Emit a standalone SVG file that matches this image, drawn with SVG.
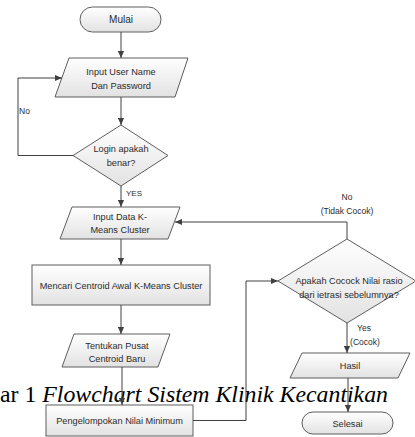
<svg xmlns="http://www.w3.org/2000/svg" width="415" height="437" viewBox="0 0 415 437">
<defs>
<linearGradient id="g" x1="0" y1="0" x2="0" y2="1">
<stop offset="0" stop-color="#ffffff"/>
<stop offset="1" stop-color="#e2e2e2"/>
</linearGradient>
<marker id="ar" viewBox="0 0 8 8" refX="8" refY="4" markerWidth="7" markerHeight="7" markerUnits="userSpaceOnUse" orient="auto">
<path d="M0,0.5 L8,4 L0,7.5 z" fill="#404040"/>
</marker>
<style>
.s{fill:url(#g);stroke:#5e5e5e;stroke-width:1}
.t{font-family:"Liberation Sans",Arial,sans-serif;font-size:9.2px;fill:#2b2b2b;text-anchor:middle}
.l{font-family:"Liberation Sans",Arial,sans-serif;font-size:8.5px;fill:#2b2b2b}
.c{fill:none;stroke:#404040;stroke-width:1}
.cap{font-family:"Liberation Serif","Times New Roman",serif;font-size:23.8px;fill:#000}
</style>
</defs>
<rect width="415" height="437" fill="#ffffff"/>
<text class="cap" x="0" y="402">ar 1 <tspan font-style="italic">Flowchart Sistem Klinik Kecantikan</tspan></text>
<g id="n-mulai"><rect class="s" x="80" y="7" width="81" height="25" rx="12.5"/><text class="t" x="121" y="23" style="font-size:10px">Mulai</text></g>
<g id="n-input-user"><path class="s" d="M69,58 H188 L175,97 H55 Z"/><text class="t" x="121" y="75">Input User Name</text><text class="t" x="121" y="88.5">Dan Password</text></g>
<g id="n-login"><path class="s" d="M121,125 L168,155.5 L121,186 L73,155.5 Z"/><text class="t" x="121" y="152">Login apakah</text><text class="t" x="121" y="166">benar?</text></g>
<g id="n-input-data"><path class="s" d="M72,207 H180 L168,239 H60 Z"/><text class="t" x="120" y="219.5">Input Data K-</text><text class="t" x="120" y="233">Means Cluster</text></g>
<g id="n-mencari"><rect class="s" x="32" y="265" width="178" height="40"/><text class="t" x="121" y="289">Mencari Centroid Awal K-Means Cluster</text></g>
<g id="n-tentukan"><path class="s" d="M74,334 H170 L158,367 H62 Z"/><text class="t" x="117" y="348.5">Tentukan Pusat</text><text class="t" x="117" y="362">Centroid Baru</text></g>
<g id="n-pengelompokan"><rect class="s" x="46" y="405" width="147" height="31"/><text class="t" x="119.5" y="424">Pengelompokan Nilai Minimum</text></g>
<g id="n-cocok"><path class="s" d="M347,239 L416,281 L347,323 L278,281 Z"/><text class="t" x="349" y="284">Apakah Cocock Nilai rasio</text><text class="t" x="349" y="298">dari ietrasi sebelumnya?</text></g>
<g id="n-hasil"><path class="s" d="M302,353 H410 L398,378 H290 Z"/><text class="t" x="350" y="368.5">Hasil</text></g>
<g id="n-selesai"><rect class="s" x="302" y="412" width="91" height="22" rx="11"/><text class="t" x="347.5" y="426.5">Selesai</text></g>
<g id="connectors">
<path class="c" d="M121,32 V58" marker-end="url(#ar)"/>
<path class="c" d="M121,97 V125" marker-end="url(#ar)"/>
<path class="c" d="M73,155.5 H18 V78 H62" marker-end="url(#ar)"/>
<path class="c" d="M121,186 V207" marker-end="url(#ar)"/>
<path class="c" d="M121,239 V265" marker-end="url(#ar)"/>
<path class="c" d="M121,305 V334" marker-end="url(#ar)"/>
<path class="c" d="M122,367 V405" marker-end="url(#ar)"/>
<path class="c" d="M193,420.5 H246 V281 H278" marker-end="url(#ar)"/>
<path class="c" d="M347,239 V222 H175" marker-end="url(#ar)"/>
<path class="c" d="M347,323 V353" marker-end="url(#ar)"/>
<path class="c" d="M348,378 V412" marker-end="url(#ar)"/>
<text class="l" x="19" y="114">No</text>
<text class="l" x="126" y="196" style="font-size:8px">YES</text>
<text class="l" x="347" y="200" text-anchor="middle">No</text>
<text class="l" x="347" y="214" text-anchor="middle">(Tidak Cocok)</text>
<text class="l" x="364" y="331" text-anchor="middle">Yes</text>
<text class="l" x="365" y="345" text-anchor="middle">(Cocok)</text>
</g>
</svg>
